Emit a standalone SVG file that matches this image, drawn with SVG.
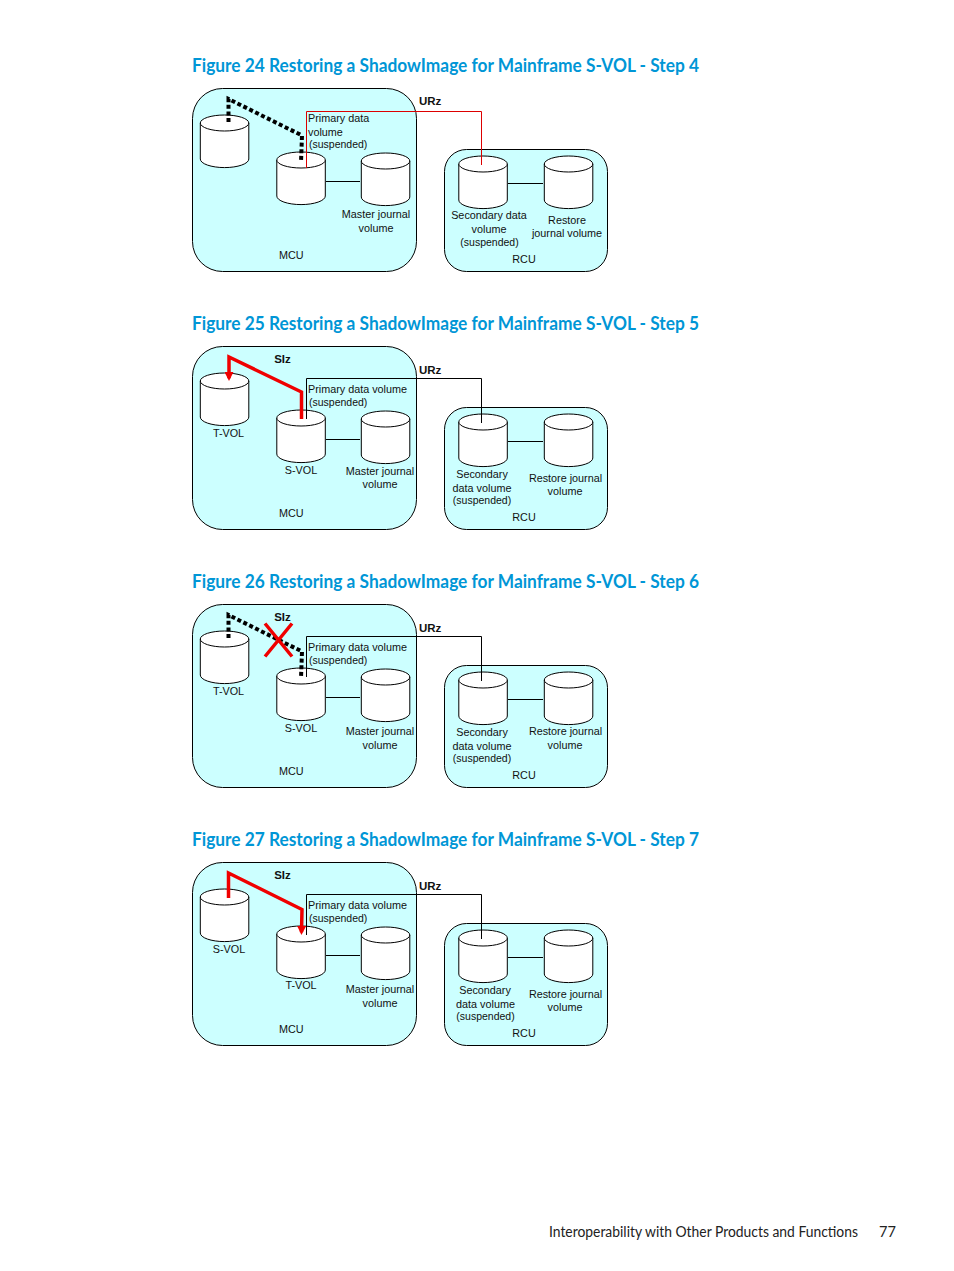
<svg xmlns="http://www.w3.org/2000/svg" xmlns:xlink="http://www.w3.org/1999/xlink" width="954" height="1271" viewBox="0 0 954 1271">
<style>
text{font-family:"Liberation Sans",Arial,sans-serif;font-size:10.8px;fill:#111}
.t{font-family:Lato,"Open Sans",sans-serif;font-size:18.6px;font-weight:700;fill:#0096d6}
.f{font-family:Lato,"Open Sans",sans-serif;font-size:14.6px;fill:#222}
.m{text-anchor:middle}
.s{font-size:10.5px}
.b{font-weight:700;font-size:11.5px}
.mcu,.rcu{fill:#ccffff;stroke:#000;stroke-width:1}
.cyl{fill:#fff;stroke:#000;stroke-width:1}
.w{fill:none;stroke:#000;stroke-width:1}
.wr{fill:none;stroke:#dd0000;stroke-width:1}
.d{fill:none;stroke:#000;stroke-width:4;stroke-dasharray:4 2.6}
.r{fill:none;stroke:#f00000;stroke-width:3.5}
</style>
<defs>
<g id="c"><path class="cyl" d="M0 8V44A24 8.5 0 0 0 48.500 44V8"/><ellipse class="cyl" cx="24.250" cy="8" rx="24.250" ry="8"/></g>
<marker id="a" markerUnits="userSpaceOnUse" markerWidth="9" markerHeight="9" refX="7" refY="5" orient="auto" viewBox="0 0 10 10"><path d="M0 0L10 5L0 10Z" fill="#f00000"/></marker>
</defs>

<g id="titles">
<text class="t" x="192" y="71.800" textLength="507" lengthAdjust="spacingAndGlyphs">Figure 24 Restoring a ShadowImage for Mainframe S-VOL - Step 4</text>
<text class="t" x="192" y="329.800" textLength="507" lengthAdjust="spacingAndGlyphs">Figure 25 Restoring a ShadowImage for Mainframe S-VOL - Step 5</text>
<text class="t" x="192" y="587.800" textLength="507" lengthAdjust="spacingAndGlyphs">Figure 26 Restoring a ShadowImage for Mainframe S-VOL - Step 6</text>
<text class="t" x="192" y="845.800" textLength="507" lengthAdjust="spacingAndGlyphs">Figure 27 Restoring a ShadowImage for Mainframe S-VOL - Step 7</text>
</g>

<!-- Figure 24 -->
<g id="f24-mcu"><rect class="mcu" x="192.500" y="88.500" width="224" height="183" rx="30"/><text x="279" y="259">MCU</text></g>
<g id="f24-rcu"><rect class="rcu" x="444.500" y="149.500" width="163" height="122" rx="22"/><text class="m" x="524" y="263">RCU</text></g>
<g id="f24-tvol"><use xlink:href="#c" href="#c" x="200.300" y="115"/></g>
<g id="f24-pvol"><use xlink:href="#c" href="#c" x="276.800" y="152"/><text x="308" y="122">Primary data</text><text x="308" y="136">volume</text><text class="s" x="309" y="148">(suspended)</text></g>
<g id="f24-mj"><use xlink:href="#c" href="#c" x="361.300" y="153"/><text class="m" x="376" y="218">Master journal</text><text class="m" x="376" y="232">volume</text></g>
<g id="f24-svol"><use xlink:href="#c" href="#c" x="458.800" y="156"/><text class="m" x="489" y="219">Secondary data</text><text class="m" x="489" y="233">volume</text><text class="m s" x="489.500" y="246">(suspended)</text></g>
<g id="f24-rj"><use xlink:href="#c" href="#c" x="544.300" y="156"/><text class="m" x="567" y="224">Restore</text><text class="m" x="567" y="237">journal volume</text></g>
<g id="f24-urz"><text class="b" x="419" y="105">URz</text></g>
<g id="f24-connectors">
<path class="w" d="M326 181.500H360M508 183.500H543"/>
<path class="wr" d="M306.500 168V111.500H481.500V165"/>
<path class="d" d="M228.500 122V99L302 135.500L301 162"/>
</g>

<!-- Figure 25 -->
<g id="f25-mcu"><rect class="mcu" x="192.500" y="346.500" width="224" height="183" rx="30"/><text x="279" y="517">MCU</text></g>
<g id="f25-rcu"><rect class="rcu" x="444.500" y="407.500" width="163" height="122" rx="22"/><text class="m" x="524" y="521">RCU</text></g>
<g id="f25-tvol"><use xlink:href="#c" href="#c" x="200.300" y="373"/><text class="m" x="228.500" y="437">T-VOL</text></g>
<g id="f25-pvol"><use xlink:href="#c" href="#c" x="276.800" y="410"/><text class="m" x="301" y="474">S-VOL</text><text x="308" y="393">Primary data volume</text><text class="s" x="309" y="406">(suspended)</text></g>
<g id="f25-mj"><use xlink:href="#c" href="#c" x="361.300" y="411"/><text class="m" x="380" y="475">Master journal</text><text class="m" x="380" y="488">volume</text></g>
<g id="f25-svol"><use xlink:href="#c" href="#c" x="458.800" y="414"/><text class="m" x="482" y="477.500">Secondary</text><text class="m" x="482" y="491.500">data volume</text><text class="m s" x="482" y="504">(suspended)</text></g>
<g id="f25-rj"><use xlink:href="#c" href="#c" x="544.300" y="414"/><text class="m" x="565.500" y="482">Restore journal</text><text class="m" x="565" y="495">volume</text></g>
<g id="f25-siz"><text class="b m" x="282.500" y="363">SIz</text></g>
<g id="f25-urz"><text class="b" x="419" y="374">URz</text></g>
<g id="f25-connectors">
<path class="w" d="M326 439.500H360M508 441.500H543"/>
<path class="w" d="M306.500 419V378.500H481.500V423"/>
<path class="r" d="M301.500 419V392L229 357V378.300" marker-end="url(#a)"/>
</g>

<!-- Figure 26 -->
<g id="f26-mcu"><rect class="mcu" x="192.500" y="604.500" width="224" height="183" rx="30"/><text x="279" y="775">MCU</text></g>
<g id="f26-rcu"><rect class="rcu" x="444.500" y="665.500" width="163" height="122" rx="22"/><text class="m" x="524" y="779">RCU</text></g>
<g id="f26-tvol"><use xlink:href="#c" href="#c" x="200.300" y="631"/><text class="m" x="228.500" y="695">T-VOL</text></g>
<g id="f26-pvol"><use xlink:href="#c" href="#c" x="276.800" y="668"/><text class="m" x="301" y="732">S-VOL</text><text x="308" y="651">Primary data volume</text><text class="s" x="309" y="664">(suspended)</text></g>
<g id="f26-mj"><use xlink:href="#c" href="#c" x="361.300" y="669"/><text class="m" x="380" y="735">Master journal</text><text class="m" x="380" y="749">volume</text></g>
<g id="f26-svol"><use xlink:href="#c" href="#c" x="458.800" y="672"/><text class="m" x="482" y="735.500">Secondary</text><text class="m" x="482" y="749.500">data volume</text><text class="m s" x="482" y="762">(suspended)</text></g>
<g id="f26-rj"><use xlink:href="#c" href="#c" x="544.300" y="672"/><text class="m" x="565.500" y="735">Restore journal</text><text class="m" x="565" y="749">volume</text></g>
<g id="f26-siz"><text class="b m" x="282.500" y="621">SIz</text></g>
<g id="f26-urz"><text class="b" x="419" y="632">URz</text></g>
<g id="f26-connectors">
<path class="w" d="M326 697.500H360M508 699.500H543"/>
<path class="w" d="M306.500 677V636.500H481.500V681"/>
<path class="d" d="M228.500 638V615L302 651.500L301 678"/>
<path class="r" d="M265 656.500L292 623.500M265 623.500L292 656.500"/>
</g>

<!-- Figure 27 -->
<g id="f27-mcu"><rect class="mcu" x="192.500" y="862.500" width="224" height="183" rx="30"/><text x="279" y="1033">MCU</text></g>
<g id="f27-rcu"><rect class="rcu" x="444.500" y="923.500" width="163" height="122" rx="22"/><text class="m" x="524" y="1037">RCU</text></g>
<g id="f27-svol1"><use xlink:href="#c" href="#c" x="200.300" y="889"/><text class="m" x="229" y="953">S-VOL</text></g>
<g id="f27-pvol"><use xlink:href="#c" href="#c" x="276.800" y="926"/><text class="m" x="301" y="989">T-VOL</text><text x="308" y="909">Primary data volume</text><text class="s" x="309" y="922">(suspended)</text></g>
<g id="f27-mj"><use xlink:href="#c" href="#c" x="361.300" y="927"/><text class="m" x="380" y="993">Master journal</text><text class="m" x="380" y="1007">volume</text></g>
<g id="f27-svol"><use xlink:href="#c" href="#c" x="458.800" y="930"/><text class="m" x="485" y="993.500">Secondary</text><text class="m" x="485.500" y="1007.500">data volume</text><text class="m s" x="485.500" y="1020">(suspended)</text></g>
<g id="f27-rj"><use xlink:href="#c" href="#c" x="544.300" y="930"/><text class="m" x="565.500" y="998">Restore journal</text><text class="m" x="565" y="1011">volume</text></g>
<g id="f27-siz"><text class="b m" x="282.500" y="879">SIz</text></g>
<g id="f27-urz"><text class="b" x="419" y="890">URz</text></g>
<g id="f27-connectors">
<path class="w" d="M326 955.500H360M508 957.500H543"/>
<path class="w" d="M306.500 935V894.500H481.500V939"/>
<path class="r" d="M228.500 898V873L302 909.500L301.500 932.300" marker-end="url(#a)"/>
</g>

<g id="footer">
<text class="f" x="549" y="1237" textLength="309" lengthAdjust="spacingAndGlyphs">Interoperability with Other Products and Functions</text>
<text class="f" x="879" y="1237">77</text>
</g>
</svg>
